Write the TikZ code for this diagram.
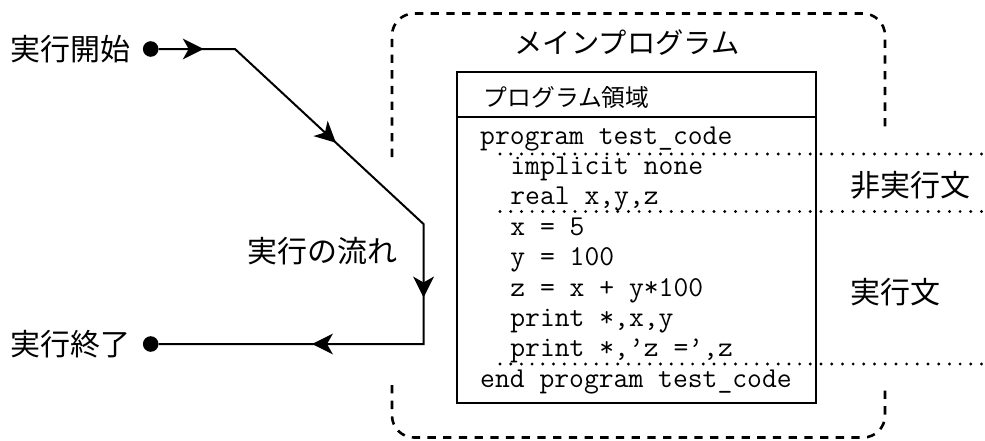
\documentclass[tikz,border=0pt]{standalone}
\usepackage{fontspec}
\newfontfamily\jpfont{Noto Sans CJK JP}
\usetikzlibrary{decorations.markings}
\tikzset{
  jpbig/.style={font=\jpfont\fontsize{30pt}{30pt}\selectfont, inner sep=0pt, text height=24.6pt, text depth=1.8pt},
  jptitle/.style={font=\jpfont\fontsize{28.3pt}{28.3pt}\selectfont, inner sep=0pt, text height=23.2pt, text depth=1.7pt},
  jphead/.style={font=\jpfont\fontsize{23.8pt}{23.8pt}\selectfont, inner sep=0pt, text height=19.5pt, text depth=1.4pt},
  codeline/.style={font=\ttfamily\fontsize{28.8pt}{30pt}\selectfont, inner sep=0pt, anchor=base west},
  dotnode/.style={circle, fill=black, draw=none, inner sep=0pt, minimum size=15.6pt},
  flow/.style={line width=2pt, line join=miter},
  tipmark/.style={postaction={decorate}, decoration={markings,
     mark=at position 45pt with {\fill (0,0) -- (-21,10.5) -- (-15,0) -- (-21,-10.5) -- cycle;},
     mark=at position 214pt with {\fill (0,0) -- (-21,10.5) -- (-15,0) -- (-21,-10.5) -- cycle;},
     mark=at position 407pt with {\fill (0,0) -- (-21,10.5) -- (-15,0) -- (-21,-10.5) -- cycle;},
     mark=at position 565pt with {\fill (0,0) -- (-21,10.5) -- (-15,0) -- (-21,-10.5) -- cycle;}}},
  dashbox/.style={line width=2.6pt, dash pattern=on 8.3pt off 7.4pt, rounded corners=22pt},
  boxline/.style={line width=2.4pt},
  dotline/.style={line width=3.2pt, line cap=round, dash pattern=on 0pt off 10.7pt},
}
\begin{document}
\begin{tikzpicture}[x=1pt,y=-1pt]
\useasboundingbox (0,0) rectangle (985,440);

% outer dashed frame (main program)
\draw[dashbox] (392,157) -- (392,13.5) -- (885,13.5) -- (885,132);
\draw[dashbox] (392,385) -- (392,437.5) -- (885,437.5) -- (885,385);
\node[jptitle] (title) at (627,43) {メインプログラム};

% program box
\draw[boxline] (457,72) rectangle (816,403);
\draw[boxline] (457,117) -- (816,117);
\node[jphead, anchor=west] (head) at (483.5,97) {プログラム領域};

% code
\node[codeline] (l1) at (480,144) {program test\_code};
\node[codeline] (l2) at (510.2,174.4) {implicit none};
\node[codeline] (l3) at (510.2,204.8) {real x,y,z};
\node[codeline] (l4) at (510.2,235.2) {x = 5};
\node[codeline] (l5) at (510.2,265.6) {y = 100};
\node[codeline] (l6) at (510.2,296) {z = x + y*100};
\node[codeline] (l7) at (510.2,326.4) {print *,x,y};
\node[codeline] (l8) at (510.2,356.8) {print *,’z =’,z};
\node[codeline] (l9) at (480,387.2) {end program test\_code};

% dotted separators
\draw[dotline] (500,154) -- (985,154);
\draw[dotline] (500,211.5) -- (985,211.5);
\draw[dotline] (500,364) -- (985,364);

\node[jpbig, anchor=west] (nonexec) at (850,185) {非実行文};
\node[jpbig, anchor=west] (exec) at (850,292) {実行文};

% flow
\node[dotnode] (s) at (150.7,49) {};
\node[dotnode] (e) at (150.7,344) {};
\coordinate (c1) at (235,49);
\coordinate (c2) at (423.5,224);
\coordinate (c3) at (423.5,344);
\draw[flow, tipmark] (s) -- (c1) -- (c2) -- (c3) -- (e);

\node[jpbig, anchor=east] (start) at (131,49) {実行開始};
\node[jpbig, anchor=east] (end) at (131,344) {実行終了};
\node[jpbig] (flowlabel) at (322,251) {実行の流れ};
\end{tikzpicture}
\end{document}
